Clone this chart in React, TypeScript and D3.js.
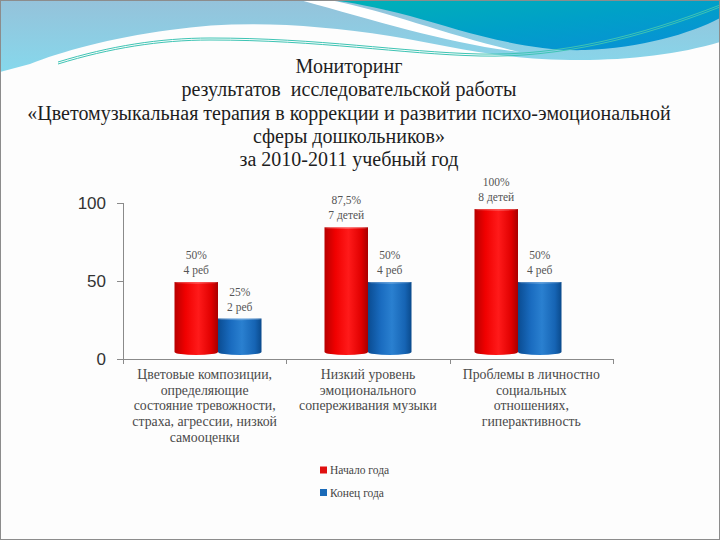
import { useEffect, useRef } from 'react';
import * as d3 from 'd3';

const titleLines = [
  'Мониторинг',
  'результатов  исследовательской работы',
  '«Цветомузыкальная терапия в коррекции и развитии психо-эмоциональной',
  'сферы дошкольников»',
  'за 2010-2011 учебный год',
];

const categories = ['cat1', 'cat2', 'cat3'];
const categoryLines = [
  ['Цветовые композиции,', 'определяющие', 'состояние тревожности,', 'страха, агрессии, низкой', 'самооценки'],
  ['Низкий уровень', 'эмоционального', 'сопереживания музыки'],
  ['Проблемы в личностно', 'социальных', 'отношениях,', 'гиперактивность'],
];

const seriesNames = ['Начало года', 'Конец года'];
const startValues = [50, 87.5, 100];
const endValues = [25, 50, 50];
const startLabels = [['50%', '4 реб'], ['87,5%', '7 детей'], ['100%', '8 детей']];
const endLabels = [['25%', '2 реб'], ['50%', '4 реб'], ['50%', '4 реб']];
const yTicks = [0, 50, 100];

const W = 720;
const H = 540;
const SERIF = 'Liberation Serif, Times New Roman, DejaVu Serif, serif';
const SANS = 'Liberation Sans, Arial, DejaVu Sans, sans-serif';

export default function App() {
  const ref = useRef<SVGSVGElement>(null);

  useEffect(() => {
    if (!ref.current) return;
    const svg = d3.select(ref.current);
    svg.selectAll('*').remove();

    const defs = svg.append('defs');
    const lin = (id: string, stops: [number, string][], x2 = '100%', y2 = '0%') => {
      const g = defs.append('linearGradient').attr('id', id)
        .attr('x1', '0%').attr('y1', '0%').attr('x2', x2).attr('y2', y2);
      stops.forEach(([o, c]) => g.append('stop').attr('offset', o).attr('stop-color', c));
    };
    lin('sky', [[0, '#95c2da'], [1, '#86d8ec']], '0%', '100%');
    lin('teal', [[0, '#00b2b6'], [0.5, '#00a0c8'], [1, '#0a8ed8']], '100%', '100%');
    lin('red', [[0, '#b80000'], [0.25, '#f00000'], [0.55, '#ff1a1a'], [0.85, '#e00000'], [1, '#a80000']]);
    lin('blue', [[0, '#0a4c92'], [0.3, '#1a6cc0'], [0.55, '#2a80d0'], [0.85, '#1664b4'], [1, '#0a4a8c']]);

    // background
    svg.append('rect').attr('width', W).attr('height', H).attr('fill', '#fdfdfd');

    // decoration at top
    svg.append('path')
      .attr('d', 'M0,0 H720 V42 C680,54 630,60 580,60 C500,60 450,46 390,36 C310,24 240,20 170,30 C110,38 60,52 30,64 L0,72 Z')
      .attr('fill', 'url(#sky)');
    svg.append('path')
      .attr('d', 'M300,0 H330 C390,12 450,36 520,52 C450,44 380,22 300,0 Z')
      .attr('fill', '#ffffff');
    svg.append('path')
      .attr('d', 'M330,0 H720 V18 C690,34 640,48 585,50 C525,52 460,30 410,16 C375,7 350,2 330,0 Z')
      .attr('fill', 'url(#teal)');
    [0, 2].forEach(off => {
      svg.append('path')
        .attr('d', `M58,${62 + off} C110,${46 + off} 160,${38 + off} 210,${38 + off} C320,${38 + off} 400,${52 + off} 480,${54 + off} C560,${56 + off} 640,${36 + off} 720,${5 + off}`)
        .attr('fill', 'none')
        .attr('stroke', '#3ec4b4')
        .attr('stroke-width', 1);
    });

    // title
    const title = svg.append('text')
      .attr('text-anchor', 'middle')
      .attr('font-family', SERIF)
      .attr('font-size', 20)
      .attr('fill', '#1e1e1e')
      .attr('xml:space', 'preserve');
    titleLines.forEach((t, i) => {
      title.append('tspan').attr('x', 349).attr('y', 73 + i * 23.3).text(t);
    });

    // scales
    const xAxis = d3.scaleBand<string>().domain(categories).range([123, 613]);
    const xBars = d3.scaleBand<string>().domain(categories).range([143, 593])
      .paddingInner(0.42).paddingOuter(0.21);
    const xSeries = d3.scaleBand<number>().domain([0, 1]).range([0, xBars.bandwidth()]);
    const yAxis = d3.scaleLinear().domain([0, 100]).range([359, 203]);
    const yBar = d3.scaleLinear().domain([0, 100]).range([355, 209]);

    // axes
    const axisColor = '#8a8a8a';
    const ax = svg.append('g').attr('stroke', axisColor).attr('stroke-width', 1);
    ax.append('line').attr('x1', 123.5).attr('x2', 123.5).attr('y1', yAxis(100)).attr('y2', yAxis(0));
    ax.append('line').attr('x1', 123).attr('x2', 613).attr('y1', yAxis(0) + 0.5).attr('y2', yAxis(0) + 0.5);
    yTicks.forEach(t => {
      ax.append('line').attr('x1', 117).attr('x2', 123).attr('y1', yAxis(t) + 0.5).attr('y2', yAxis(t) + 0.5);
    });
    const edges = categories.map(c => xAxis(c)!).concat([xAxis.range()[1]]);
    edges.forEach(x => {
      ax.append('line').attr('x1', Math.round(x) + 0.5).attr('x2', Math.round(x) + 0.5)
        .attr('y1', yAxis(0)).attr('y2', yAxis(0) + 5);
    });

    svg.append('g')
      .selectAll('text')
      .data(yTicks)
      .enter()
      .append('text')
      .attr('x', 106)
      .attr('y', d => yAxis(d))
      .attr('dy', '0.35em')
      .attr('text-anchor', 'end')
      .attr('font-family', SANS)
      .attr('font-size', 17)
      .attr('fill', '#333')
      .text(d => String(d));

    // bars (cylinders)
    const series = [
      { values: startValues, labels: startLabels, fill: 'url(#red)' },
      { values: endValues, labels: endLabels, fill: 'url(#blue)' },
    ];
    const ry = 3;
    series.forEach((s, si) => {
      categories.forEach((c, ci) => {
        const x0 = xBars(c)! + xSeries(si)!;
        const w = xSeries.bandwidth();
        const top = yBar(s.values[ci]);
        const bottom = yBar(0);
        const d = `M${x0},${top} H${x0 + w} V${bottom - ry} A${w / 2},${ry} 0 0 1 ${x0},${bottom - ry} Z`;
        svg.append('path').attr('d', d).attr('fill', s.fill);
        svg.append('ellipse')
          .attr('cx', x0 + w / 2).attr('cy', top + 0.5)
          .attr('rx', w / 2).attr('ry', 1.2)
          .attr('fill', '#ffffff').attr('opacity', 0.25);

        const lab = svg.append('text')
          .attr('text-anchor', 'middle')
          .attr('font-family', SERIF)
          .attr('font-size', 11.5)
          .attr('fill', '#555');
        s.labels[ci].forEach((t, li) => {
          lab.append('tspan').attr('x', x0 + w / 2).attr('y', top - 23 + li * 15).text(t);
        });
      });
    });

    // category labels
    categories.forEach((c, ci) => {
      const cx = xAxis(c)! + xAxis.bandwidth() / 2;
      const t = svg.append('text')
        .attr('text-anchor', 'middle')
        .attr('font-family', SERIF)
        .attr('font-size', 13.8)
        .attr('fill', '#4a4a4a');
      categoryLines[ci].forEach((line, li) => {
        t.append('tspan').attr('x', cx).attr('y', 379 + li * 15.7).text(line);
      });
    });

    // legend
    const legendColors = ['#e01010', '#1a6ab8'];
    seriesNames.forEach((n, i) => {
      const y = 470 + i * 22.5;
      svg.append('rect').attr('x', 320).attr('y', y - 3.5).attr('width', 7).attr('height', 7)
        .attr('fill', legendColors[i]);
      svg.append('text')
        .attr('x', 330).attr('y', y).attr('dy', '0.35em')
        .attr('font-family', SERIF)
        .attr('font-size', 11.5)
        .attr('fill', '#444')
        .text(n);
    });

    // frame
    svg.append('rect').attr('x', 0.5).attr('y', 0.5).attr('width', W - 1).attr('height', H - 1)
      .attr('fill', 'none').attr('stroke', '#8c8c8c').attr('stroke-width', 1);
  }, []);

  return (
    <svg
      ref={ref}
      width={W}
      height={H}
      style={{ position: 'absolute', left: 0, top: 0, display: 'block' }}
    />
  );
}
